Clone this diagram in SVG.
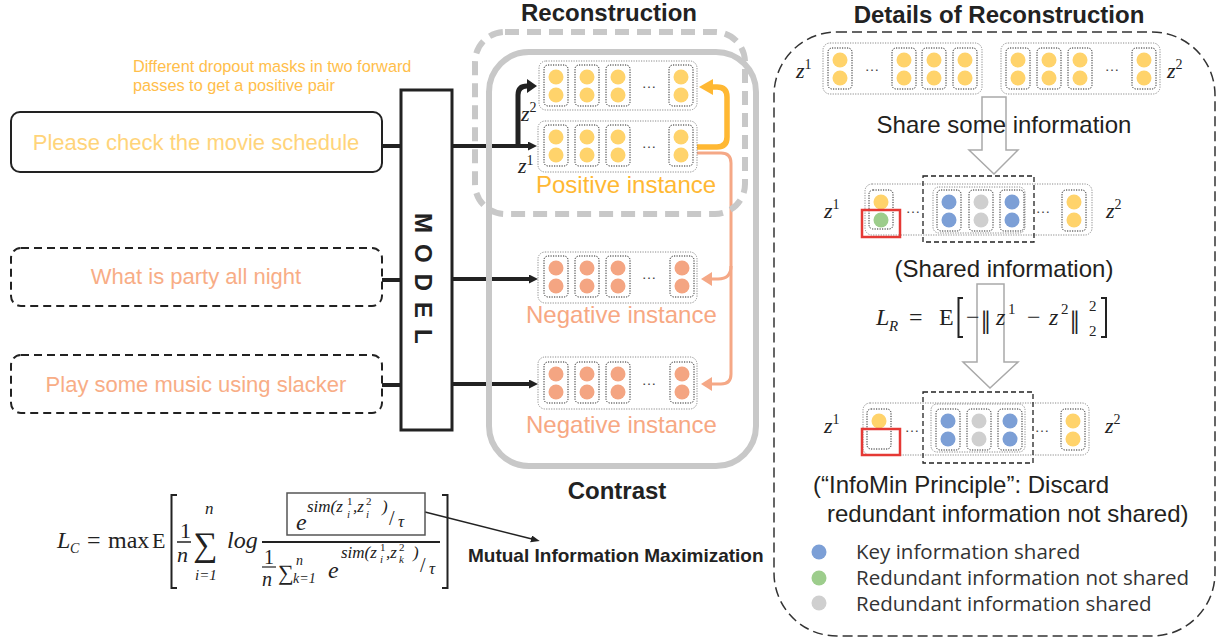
<svg xmlns="http://www.w3.org/2000/svg" width="1219" height="640" viewBox="0 0 1219 640">
<style>
.sans{font-family:"Liberation Sans",Arial,sans-serif}
.bold{font-family:"Liberation Sans",Arial,sans-serif;font-weight:bold;fill:#222;font-size:24px;text-anchor:middle}
.mi{font-family:"Liberation Serif","DejaVu Serif","Times New Roman",serif;font-style:italic;fill:#222}
.mr{font-family:"Liberation Serif","DejaVu Serif","Times New Roman",serif;fill:#222}
.cell{fill:none;stroke:#222;stroke-width:1;stroke-dasharray:1.2 1.3}
.grp{fill:none;stroke:#8a8a8a;stroke-width:1;stroke-dasharray:1.2 1.3}
.dots{font-family:"Liberation Sans",sans-serif;font-size:15px;fill:#444;text-anchor:middle}
.y{fill:#FFD36B}.n{fill:#F4A582}.b{fill:#7C9FD6}.g{fill:#9DCD8C}.s{fill:#CFCFCF}
.hollow{fill:#fff;stroke:#A9A9A9;stroke-width:1.5}
.red{fill:none;stroke:#E53935;stroke-width:2.5}
.dash{fill:none;stroke:#222;stroke-width:1.3;stroke-dasharray:5 3}
.rtext{font-family:"Liberation Sans",Arial,sans-serif;font-size:24px;fill:#231F20}
.leg{font-family:"Open Sans","Noto Sans",sans-serif;font-size:20.5px;fill:#333}
.inbox{fill:#fff;stroke:#222;stroke-width:2}
.intext{font-family:"Liberation Sans",Arial,sans-serif;font-size:22px;text-anchor:middle}
.grey{fill:none;stroke:#C8C8C8;stroke-width:6}
</style>
<defs>
<g id="cY"><rect class="cell" width="24" height="41" rx="4"/><circle class="y" cx="12" cy="12" r="7.5"/><circle class="y" cx="12" cy="30" r="7.5"/></g>
<g id="cN"><rect class="cell" width="24" height="41" rx="4"/><circle class="n" cx="12" cy="12" r="7.5"/><circle class="n" cx="12" cy="30" r="7.5"/></g>
<g id="cB"><rect class="cell" width="24" height="41" rx="4"/><circle class="b" cx="12" cy="12" r="7.5"/><circle class="b" cx="12" cy="30" r="7.5"/></g>
<g id="cS"><rect class="cell" width="24" height="41" rx="4"/><circle class="s" cx="12" cy="12" r="7.5"/><circle class="s" cx="12" cy="30" r="7.5"/></g>
<g id="cYG"><rect class="cell" width="24" height="39" rx="4"/><circle class="y" cx="12" cy="12" r="7.5"/><circle class="g" cx="12" cy="30" r="7.5"/></g>
<g id="cY1"><rect class="cell" width="24" height="40" rx="4"/><circle class="y" cx="12" cy="12" r="7.5"/></g>
<marker id="aB" markerUnits="userSpaceOnUse" markerWidth="10" markerHeight="10" refX="1" refY="4.5" orient="auto" viewBox="0 0 10 10"><path d="M0,0 L9,4.5 L0,9 z" fill="#222"/></marker>
<marker id="aBB" markerUnits="userSpaceOnUse" markerWidth="12" markerHeight="16" refX="1" refY="7" orient="auto" viewBox="0 0 12 16"><path d="M0,0 L10,7 L0,14 z" fill="#222"/></marker>
<marker id="aO" markerUnits="userSpaceOnUse" markerWidth="16" markerHeight="18" refX="1" refY="8" orient="auto" viewBox="0 0 16 18"><path d="M0,0 L14,8 L0,16 z" fill="#FFB833"/></marker>
<marker id="aS" markerUnits="userSpaceOnUse" markerWidth="13" markerHeight="16" refX="1" refY="7" orient="auto" viewBox="0 0 13 16"><path d="M0,0 L11,7 L0,14 z" fill="#F5A886"/></marker>
<marker id="aF" markerUnits="userSpaceOnUse" markerWidth="10" markerHeight="8" refX="1" refY="3.5" orient="auto" viewBox="0 0 10 8"><path d="M0,0 L9,3.5 L0,7 z" fill="#222"/></marker>
</defs>
<rect width="1219" height="640" fill="#fff"/>

<g id="annotation">
<text class="sans" x="133" y="72" font-size="16.3" fill="#FFBE4A">Different dropout masks in two forward</text>
<text class="sans" x="133" y="91" font-size="16.3" fill="#FFBE4A">passes to get a positive pair</text>
</g>

<g id="input-1"><rect class="inbox" x="11" y="112" width="371" height="60" rx="9"/><text class="intext" x="196" y="150" fill="#FFD47A">Please check the movie schedule</text></g>
<g id="input-2"><rect class="inbox" x="11" y="248" width="371" height="58" rx="10" stroke-dasharray="8 5"/><text class="intext" x="196" y="284" fill="#F8AD86">What is party all night</text></g>
<g id="input-3"><rect class="inbox" x="11" y="355" width="371" height="58" rx="10" stroke-dasharray="8 5"/><text class="intext" x="196" y="392" fill="#F8AD86">Play some music using slacker</text></g>

<g id="model"><rect x="401" y="90" width="51" height="340" fill="#fff" stroke="#222" stroke-width="3"/>
<text class="sans" transform="translate(415,213) rotate(90)" font-size="24" font-weight="bold" letter-spacing="11" fill="#222">MODEL</text></g>

<g id="connectors" fill="none">
<path d="M382,146 H401" stroke="#222" stroke-width="4"/>
<path d="M382,280 H401" stroke="#222" stroke-width="4"/>
<path d="M382,385 H401" stroke="#222" stroke-width="4"/>
<path d="M452,146 H529" stroke="#222" stroke-width="4" marker-end="url(#aB)"/>
<path d="M518,146 V95 Q518,86 527,86 H528" stroke="#222" stroke-width="5" marker-end="url(#aBB)"/>
<path d="M452,279 H530" stroke="#222" stroke-width="4" marker-end="url(#aB)"/>
<path d="M452,384 H530" stroke="#222" stroke-width="4" marker-end="url(#aB)"/>
<path d="M697,147 H717 Q727,147 727,137 V97 Q727,87 717,87 H712" stroke="#FFB833" stroke-width="5.5" marker-end="url(#aO)"/>
<path d="M697,153 H721 Q731,153 731,163 V374 Q731,384 721,384 H711" stroke="#F5A886" stroke-width="3" marker-end="url(#aS)"/>
<path d="M731,266 Q731,279 718,279 H711" stroke="#F5A886" stroke-width="3" marker-end="url(#aS)"/>
<path d="M425,512 L532,539" stroke="#222" stroke-width="1.5" marker-end="url(#aF)"/>
<polygon class="hollow" points="982,97 1006,97 1006,150 1018,150 994,174 969,150 982,150"/>
<polygon class="hollow" points="977,284 1004,284 1004,362 1018,362 990,388 963,362 977,362"/>
</g>

<g id="contrast"><rect class="grey" x="489" y="52" width="267" height="414" rx="40"/><text class="bold" x="617" y="499">Contrast</text></g>
<g id="reconstruction"><rect class="grey" x="475" y="32" width="270" height="182" rx="30" stroke-dasharray="14 8"/><text class="bold" x="609" y="21">Reconstruction</text></g>

<g id="positive-z2">
<rect class="grp" x="539" y="61" width="158" height="49" rx="7"/>
<use href="#cY" x="544" y="65"/><use href="#cY" x="575" y="65"/><use href="#cY" x="606" y="65"/><use href="#cY" x="669" y="65"/>
<text class="dots" x="649" y="88">…</text>
<text class="mi" x="521" y="121" font-size="22">z<tspan class="mr" font-style="normal" font-size="14" dy="-9">2</tspan></text>
</g>
<g id="positive-z1">
<rect class="grp" x="538" y="121" width="159" height="51" rx="7"/>
<use href="#cY" x="544" y="125"/><use href="#cY" x="575" y="125"/><use href="#cY" x="606" y="125"/><use href="#cY" x="669" y="125"/>
<text class="dots" x="649" y="148">…</text>
<text class="mi" x="518" y="173" font-size="22">z<tspan class="mr" font-style="normal" font-size="14" dy="-8">1</tspan></text>
<text class="sans" x="536" y="193" font-size="24" fill="#FFB833">Positive instance</text>
</g>

<g id="negative-1">
<rect class="grp" x="538" y="252" width="159" height="51" rx="7"/>
<use href="#cN" x="544" y="256"/><use href="#cN" x="575" y="256"/><use href="#cN" x="606" y="256"/><use href="#cN" x="670" y="256"/>
<text class="dots" x="649" y="279">…</text>
<text class="sans" x="526" y="323" font-size="24" fill="#F7A883">Negative instance</text>
</g>
<g id="negative-2">
<rect class="grp" x="538" y="357" width="159" height="52" rx="7"/>
<use href="#cN" x="544" y="362"/><use href="#cN" x="575" y="362"/><use href="#cN" x="606" y="362"/><use href="#cN" x="670" y="362"/>
<text class="dots" x="649" y="385">…</text>
<text class="sans" x="526" y="433" font-size="24" fill="#F7A883">Negative instance</text>
</g>

<g id="details">
<rect x="774" y="32" width="441" height="604" rx="63" fill="none" stroke="#333" stroke-width="1.5" stroke-dasharray="10 5"/>
<text class="bold" x="999" y="23">Details of Reconstruction</text>
</g>
<g id="top-z1">
<rect class="grp" x="823" y="43" width="159" height="51" rx="7"/>
<use href="#cY" x="828" y="48"/><use href="#cY" x="892" y="48"/><use href="#cY" x="922" y="48"/><use href="#cY" x="953" y="48"/>
<text class="dots" x="872" y="71">…</text>
<text class="mi" x="796" y="78" font-size="22">z<tspan class="mr" font-style="normal" font-size="14" dy="-9">1</tspan></text>
</g>
<g id="top-z2">
<rect class="grp" x="1001" y="43" width="159" height="51" rx="7"/>
<use href="#cY" x="1006" y="48"/><use href="#cY" x="1037" y="48"/><use href="#cY" x="1068" y="48"/><use href="#cY" x="1132" y="48"/>
<text class="dots" x="1112" y="71">…</text>
<text class="mi" x="1167" y="78" font-size="22">z<tspan class="mr" font-style="normal" font-size="14" dy="-9">2</tspan></text>
</g>
<text class="rtext" x="1004" y="133" text-anchor="middle">Share some information</text>

<g id="shared-row">
<rect class="grp" x="865" y="184" width="227" height="51" rx="7"/>
<use href="#cYG" x="869" y="190"/>
<text class="dots" x="913" y="213">…</text>
<rect class="dash" x="923" y="176" width="111" height="66"/>
<rect class="grp" x="933" y="187" width="92" height="46" rx="6"/>
<use href="#cB" x="937" y="190"/><use href="#cS" x="969" y="190"/><use href="#cB" x="1000" y="190"/>
<text class="dots" x="1043" y="213">…</text>
<use href="#cY" x="1062" y="190"/>
<rect class="red" x="862" y="210" width="38" height="27"/>
<text class="mi" x="824" y="218" font-size="22">z<tspan class="mr" font-style="normal" font-size="14" dy="-9">1</tspan></text>
<text class="mi" x="1106" y="218" font-size="22">z<tspan class="mr" font-style="normal" font-size="14" dy="-9">2</tspan></text>
</g>
<text class="rtext" x="1004" y="277" text-anchor="middle">(Shared information)</text>

<g id="loss-r">
<text class="mi" x="876" y="325" font-size="24">L</text>
<text class="mi" x="889" y="331" font-size="15">R</text>
<text class="mr" x="909" y="325" font-size="24">=</text>
<text class="mr" x="939" y="325" font-size="24">E</text>
<path d="M963,298 H958.5 V337 H963 M1101,298 H1106 V337 H1101" fill="none" stroke="#222" stroke-width="2"/>
<text class="mr" x="966" y="325" font-size="24">−</text>
<text class="mr" x="981" y="334" font-size="34">‖</text>
<text class="mi" x="996" y="325" font-size="24">z</text>
<text class="mr" x="1008" y="314" font-size="15">1</text>
<text class="mr" x="1027" y="325" font-size="24">−</text>
<text class="mi" x="1049" y="325" font-size="24">z</text>
<text class="mr" x="1061" y="314" font-size="15">2</text>
<text class="mr" x="1070" y="334" font-size="34">‖</text>
<text class="mr" x="1089" y="311" font-size="15">2</text>
<text class="mr" x="1089" y="336" font-size="15">2</text>
</g>

<g id="infomin-row">
<rect class="grp" x="863" y="403" width="226" height="52" rx="7"/>
<use href="#cY1" x="867" y="409"/>
<text class="dots" x="912" y="432">…</text>
<rect class="dash" x="923" y="392" width="110" height="71"/>
<rect class="grp" x="931" y="404" width="94" height="48" rx="6"/>
<use href="#cB" x="936" y="409"/><use href="#cS" x="967" y="409"/><use href="#cB" x="998" y="409"/>
<text class="dots" x="1042" y="432">…</text>
<use href="#cY" x="1061" y="409"/>
<rect class="red" x="862" y="429" width="38" height="26"/>
<text class="mi" x="824" y="433" font-size="22">z<tspan class="mr" font-style="normal" font-size="14" dy="-9">1</tspan></text>
<text class="mi" x="1105" y="433" font-size="22">z<tspan class="mr" font-style="normal" font-size="14" dy="-9">2</tspan></text>
</g>
<text class="rtext" x="813" y="493">(“InfoMin Principle”: Discard</text>
<text class="rtext" x="827" y="522">redundant information not shared)</text>

<g id="legend">
<circle class="b" cx="819" cy="552" r="7.5"/><text class="leg" x="856" y="559">Key information shared</text>
<circle class="g" cx="819" cy="578" r="7.5"/><text class="leg" x="856" y="585">Redundant information not shared</text>
<circle class="s" cx="819" cy="603" r="7.5"/><text class="leg" x="856" y="611">Redundant information shared</text>
</g>

<g id="loss-c">
<text class="mi" x="57" y="548" font-size="24">L</text>
<text class="mi" x="70" y="553" font-size="14">C</text>
<text class="mr" x="87" y="548" font-size="24">=</text>
<text class="mr" x="108" y="548" font-size="24">max</text>
<text class="mr" x="152" y="548" font-size="22">E</text>
<path d="M177,495 H171.5 V588 H177 M442,495 H447.5 V588 H442" fill="none" stroke="#222" stroke-width="2"/>
<text class="mr" x="180" y="538" font-size="22">1</text>
<path d="M177,542 H191" stroke="#222" stroke-width="1.5"/>
<text class="mi" x="177" y="562" font-size="22">n</text>
<text class="mr" x="193" y="556" font-size="34">∑</text>
<text class="mi" x="205" y="514" font-size="17">n</text>
<text class="mi" x="195" y="580" font-size="15">i=1</text>
<text class="mi" x="227" y="548" font-size="24">log</text>
<path d="M262,542 H440" stroke="#222" stroke-width="2"/>
<rect x="287" y="493" width="138" height="42" fill="none" stroke="#555" stroke-width="1.5"/>
<text class="mi" x="296" y="530" font-size="24">e</text>
<text class="mi" x="307" y="512" font-size="17">sim(z</text>
<text class="mr" x="347" y="505" font-size="11">1</text>
<text class="mi" x="347" y="518" font-size="11">i</text>
<text class="mi" x="353" y="512" font-size="17">,z</text>
<text class="mr" x="366" y="505" font-size="11">2</text>
<text class="mi" x="366" y="518" font-size="11">i</text>
<text class="mi" x="382" y="512" font-size="17">)</text>
<text class="mr" x="389" y="525" font-size="20">/</text>
<text class="mi" x="398" y="527" font-size="17">τ</text>
<text class="mr" x="264" y="564" font-size="20">1</text>
<path d="M262,567 H276" stroke="#222" stroke-width="1.2"/>
<text class="mi" x="262" y="586" font-size="20">n</text>
<text class="mr" x="278" y="580" font-size="22">∑</text>
<text class="mi" x="296" y="565" font-size="14">n</text>
<text class="mi" x="293" y="583" font-size="14">k=1</text>
<text class="mi" x="328" y="578" font-size="24">e</text>
<text class="mi" x="341" y="558" font-size="17">sim(z</text>
<text class="mr" x="380" y="551" font-size="11">1</text>
<text class="mi" x="380" y="563" font-size="11">i</text>
<text class="mi" x="386" y="558" font-size="17">,z</text>
<text class="mr" x="399" y="551" font-size="11">2</text>
<text class="mi" x="399" y="563" font-size="11">k</text>
<text class="mi" x="413" y="558" font-size="17">)</text>
<text class="mr" x="420" y="572" font-size="20">/</text>
<text class="mi" x="429" y="574" font-size="17">τ</text>
</g>
<text class="sans" x="468" y="562" font-size="19" font-weight="bold" fill="#222">Mutual Information Maximization</text>
</svg>
